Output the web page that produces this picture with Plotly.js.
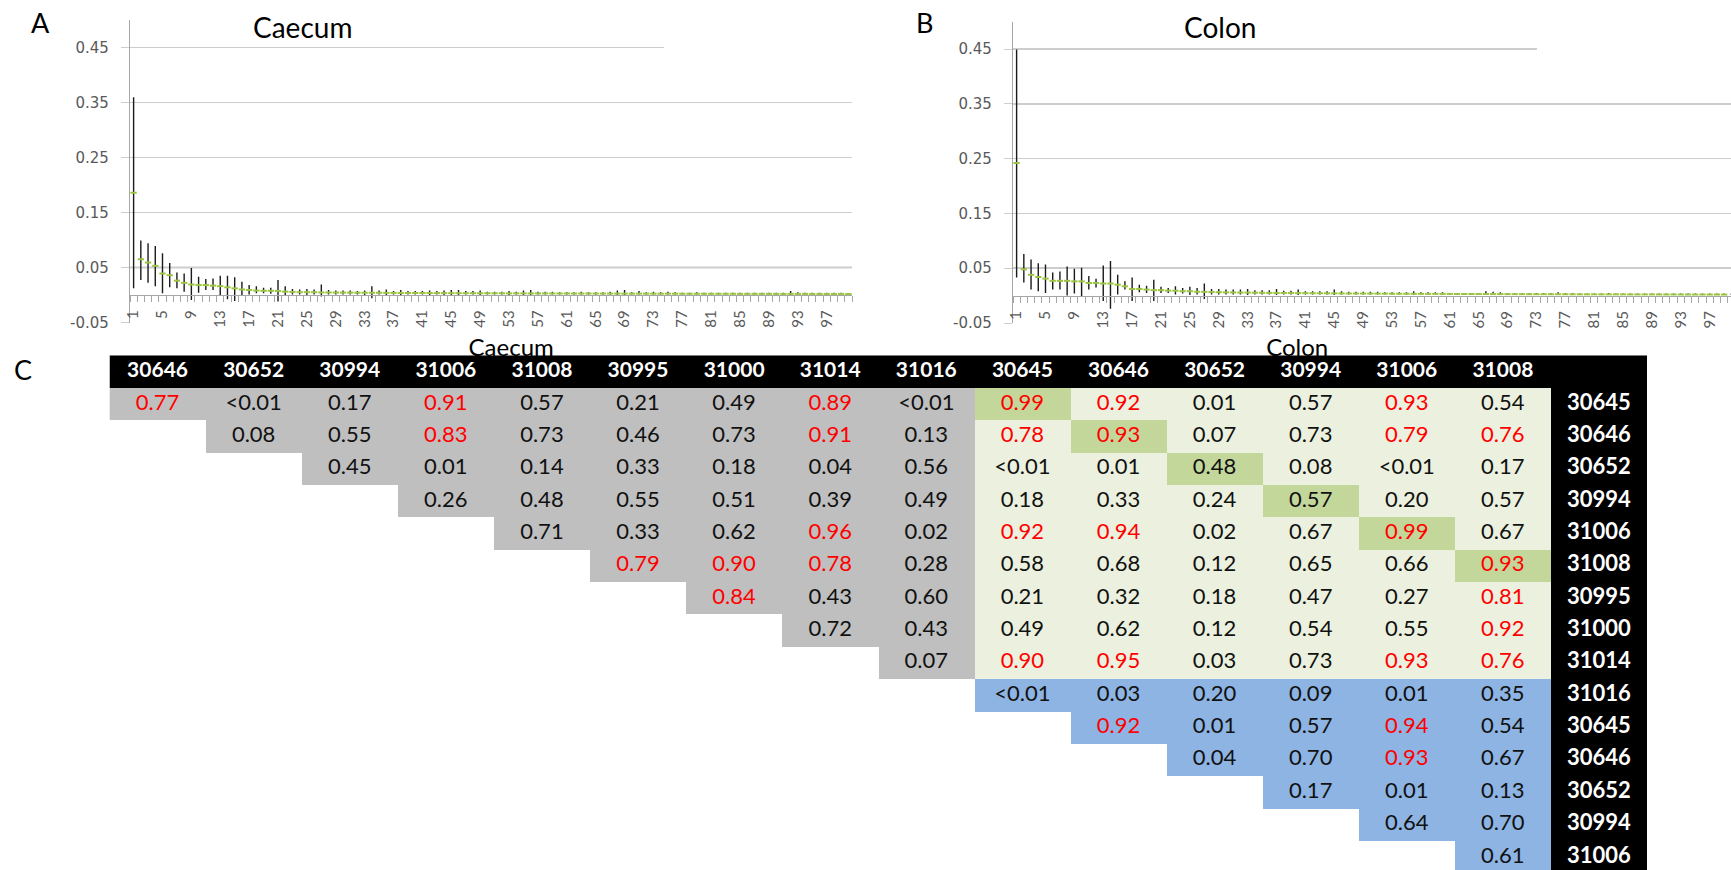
<!DOCTYPE html>
<html>
<head>
<meta charset="utf-8">
<script src="https://cdn.plot.ly/plotly-3.0.1.min.js"></script>
<style>html,body{margin:0;padding:0;background:#fff;}#chart{width:1731px;height:870px;}</style>
</head>
<body>
<div id="chart"></div>
<script>
// ---------- Data: ranked abundance, panels A and B ----------
const rank = Array.from({length: 100}, (_, i) => i + 1);

const caecumMean = [
0.186,0.065,0.059,0.053,0.039,0.036,0.026,0.022,0.019,0.018,
0.018,0.017,0.016,0.014,0.012,0.010,0.009,0.008,0.0075,0.0075,
0.0073,0.006,0.0055,0.005,0.005,0.005,0.0045,0.0045,0.0044,0.0043,
0.0042,0.0041,0.0040,0.0040,0.0039,0.0038,0.0038,0.0037,0.0036,0.0036,
0.0035,0.0035,0.0034,0.0034,0.0033,0.0033,0.0032,0.0032,0.0031,0.0031,
0.0030,0.0030,0.0029,0.0029,0.0029,0.0028,0.0028,0.0028,0.0027,0.0027,
0.0027,0.0026,0.0026,0.0026,0.0025,0.0025,0.0025,0.0025,0.0024,0.0024,
0.0024,0.0024,0.0023,0.0023,0.0023,0.0023,0.0022,0.0022,0.0022,0.0022,
0.0021,0.0021,0.0021,0.0021,0.0020,0.0020,0.0020,0.0020,0.0020,0.0019,
0.0019,0.0019,0.0019,0.0019,0.0018,0.0018,0.0018,0.0018,0.0018,0.0017];
const caecumHigh = [
0.360,0.099,0.094,0.089,0.076,0.058,0.041,0.039,0.049,0.033,
0.029,0.030,0.035,0.035,0.032,0.024,0.018,0.016,0.013,0.013,
0.027,0.016,0.011,0.010,0.011,0.010,0.019,0.009,0.008,0.008,
0.008,0.007,0.008,0.016,0.008,0.010,0.007,0.009,0.007,0.007,
0.007,0.008,0.007,0.008,0.009,0.009,0.007,0.007,0.008,0.006,
0.006,0.006,0.007,0.006,0.008,0.009,0.006,0.006,0.006,0.005,
0.005,0.005,0.006,0.005,0.005,0.005,0.006,0.008,0.009,0.005,
0.007,0.005,0.006,0.005,0.006,0.005,0.004,0.004,0.005,0.004,
0.004,0.004,0.004,0.004,0.004,0.004,0.004,0.004,0.004,0.004,
0.004,0.007,0.005,0.004,0.004,0.004,0.004,0.004,0.004,0.003];
const caecumLow = [
0.012,0.027,0.022,0.016,0.003,0.014,0.012,0.006,-0.009,0.004,
0.009,0.009,-0.002,-0.008,-0.011,-0.002,0.001,0.003,0.003,0.002,
-0.012,-0.001,0.001,0.001,0.000,0.001,-0.003,0.001,0.001,0.001,
0.001,0.001,0.000,-0.006,0.001,0.000,0.001,0.000,0.001,0.001,
0.001,0.000,0.001,0.000,0.000,0.000,0.001,0.001,0.000,0.001,
0.001,0.001,0.000,0.001,0.000,0.000,0.001,0.001,0.001,0.001,
0.001,0.001,0.001,0.001,0.001,0.001,0.001,0.000,0.000,0.001,
0.001,0.001,0.001,0.001,0.001,0.001,0.001,0.001,0.001,0.001,
0.001,0.001,0.001,0.001,0.001,0.001,0.001,0.001,0.001,0.001,
0.001,0.000,0.001,0.001,0.001,0.001,0.001,0.001,0.001,0.001];

const colonMean = [
0.242,0.048,0.038,0.034,0.031,0.027,0.027,0.027,0.026,0.026,
0.023,0.023,0.022,0.022,0.020,0.017,0.012,0.012,0.011,0.010,
0.010,0.009,0.009,0.008,0.008,0.007,0.007,0.0065,0.0063,0.006,
0.0058,0.0056,0.0055,0.0053,0.0052,0.0050,0.0049,0.0048,0.0047,0.0046,
0.0045,0.0044,0.0043,0.0042,0.0041,0.0040,0.0039,0.0038,0.0038,0.0037,
0.0036,0.0036,0.0035,0.0034,0.0034,0.0033,0.0033,0.0032,0.0032,0.0031,
0.0031,0.0030,0.0030,0.0029,0.0029,0.0029,0.0028,0.0028,0.0027,0.0027,
0.0027,0.0026,0.0026,0.0026,0.0025,0.0025,0.0025,0.0024,0.0024,0.0024,
0.0024,0.0023,0.0023,0.0023,0.0023,0.0022,0.0022,0.0022,0.0022,0.0021,
0.0021,0.0021,0.0021,0.0020,0.0020,0.0020,0.0020,0.0020,0.0019,0.0019];
const colonHigh = [
0.449,0.076,0.066,0.059,0.057,0.042,0.044,0.053,0.049,0.051,
0.036,0.031,0.055,0.063,0.038,0.026,0.033,0.020,0.018,0.029,
0.016,0.014,0.017,0.014,0.016,0.014,0.022,0.012,0.012,0.011,
0.011,0.011,0.012,0.010,0.010,0.010,0.012,0.009,0.009,0.011,
0.008,0.008,0.008,0.008,0.011,0.008,0.007,0.007,0.007,0.007,
0.007,0.006,0.006,0.006,0.006,0.008,0.006,0.006,0.006,0.006,
0.005,0.005,0.005,0.005,0.005,0.008,0.007,0.006,0.005,0.005,
0.005,0.005,0.005,0.005,0.005,0.006,0.005,0.005,0.004,0.004,
0.004,0.004,0.005,0.004,0.004,0.004,0.004,0.004,0.004,0.004,
0.004,0.004,0.004,0.004,0.004,0.004,0.004,0.004,0.004,0.004];
const colonLow = [
0.033,0.024,0.011,0.008,0.005,0.011,0.011,0.000,0.004,-0.001,
0.011,0.015,-0.010,-0.024,0.002,0.011,-0.010,0.006,0.005,-0.010,
0.005,0.005,0.002,0.004,0.001,0.002,-0.006,0.002,0.002,0.002,
0.002,0.002,0.001,0.002,0.002,0.002,0.001,0.002,0.002,0.001,
0.002,0.002,0.002,0.002,0.001,0.002,0.002,0.002,0.002,0.002,
0.002,0.002,0.002,0.002,0.002,0.001,0.002,0.002,0.002,0.002,
0.002,0.002,0.002,0.002,0.002,0.001,0.001,0.001,0.002,0.002,
0.002,0.002,0.002,0.002,0.002,0.001,0.002,0.002,0.002,0.002,
0.002,0.002,0.001,0.002,0.002,0.002,0.002,0.002,0.002,0.002,
0.001,0.001,0.001,0.001,0.001,0.001,0.001,0.001,0.001,0.001];

const yTicks = [-0.05, 0.05, 0.15, 0.25, 0.35, 0.45];

// ---------- Data: table C ----------
const caecumStrains = ['30646','30652','30994','31006','31008','30995','31000','31014','31016'];
const colonStrains  = ['30645','30646','30652','30994','31006','31008'];
const rowStrains    = ['30645','30646','30652','30994','31006','31008','30995','31000','31014','31016',
                       '30645','30646','30652','30994','31006'];
const sectionLabels = ['Caecum', 'Colon'];
const caecumValues = [
 ['0.77','<0.01','0.17','0.91','0.57','0.21','0.49','0.89','<0.01'],
 [null,'0.08','0.55','0.83','0.73','0.46','0.73','0.91','0.13'],
 [null,null,'0.45','0.01','0.14','0.33','0.18','0.04','0.56'],
 [null,null,null,'0.26','0.48','0.55','0.51','0.39','0.49'],
 [null,null,null,null,'0.71','0.33','0.62','0.96','0.02'],
 [null,null,null,null,null,'0.79','0.90','0.78','0.28'],
 [null,null,null,null,null,null,'0.84','0.43','0.60'],
 [null,null,null,null,null,null,null,'0.72','0.43'],
 [null,null,null,null,null,null,null,null,'0.07']
];
const colonValues = [
 ['0.99','0.92','0.01','0.57','0.93','0.54'],
 ['0.78','0.93','0.07','0.73','0.79','0.76'],
 ['<0.01','0.01','0.48','0.08','<0.01','0.17'],
 ['0.18','0.33','0.24','0.57','0.20','0.57'],
 ['0.92','0.94','0.02','0.67','0.99','0.67'],
 ['0.58','0.68','0.12','0.65','0.66','0.93'],
 ['0.21','0.32','0.18','0.47','0.27','0.81'],
 ['0.49','0.62','0.12','0.54','0.55','0.92'],
 ['0.90','0.95','0.03','0.73','0.93','0.76'],
 ['<0.01','0.03','0.20','0.09','0.01','0.35'],
 [null,'0.92','0.01','0.57','0.94','0.54'],
 [null,null,'0.04','0.70','0.93','0.67'],
 [null,null,null,'0.17','0.01','0.13'],
 [null,null,null,null,'0.64','0.70'],
 [null,null,null,null,null,'0.61']
];

// ---------- Build figure ----------
const W = 1731, H = 870;
const px = v => v / W, py = v => 1 - v / H;
const FONT = 'Lato, "Open Sans", sans-serif';
const GREEN = '#9BC53D';

function rankTrace(mean, low, high, xa, ya) {
  return {
    type: 'scatter', mode: 'markers', x: rank, y: mean, xaxis: xa, yaxis: ya,
    marker: {symbol: 'line-ew', size: 4.5, line: {width: 2, color: GREEN}, color: GREEN},
    error_y: {type: 'data', symmetric: false,
      array: high.map((h, i) => h - mean[i]),
      arrayminus: low.map((l, i) => mean[i] - l),
      color: '#1a1a1a', thickness: 1.4, width: 0},
    hoverinfo: 'x+y', showlegend: false, cliponaxis: false
  };
}

const majorVals = rank.filter(r => (r - 1) % 4 === 0);
function xAxisDef(domain, range, yDomain) {
  const pos = yDomain[0] + (0 - (-0.05)) / 0.55 * (yDomain[1] - yDomain[0]);
  return {
    domain, range, anchor: 'free', position: pos,
    showgrid: false, zeroline: false, showline: true, linecolor: '#a6a6a6', linewidth: 1.2,
    tickmode: 'array', tickvals: majorVals, ticktext: majorVals.map(String),
    ticks: '', tickangle: -90, ticklabelstandoff: 8,
    tickfont: {family: FONT, size: 15, color: '#595959'},
    minor: {tickmode: 'linear', tick0: 0.5, dtick: 1, ticks: 'outside', ticklen: 6,
            tickcolor: '#a6a6a6', tickwidth: 1, showgrid: false},
    fixedrange: true
  };
}
function yAxisDef(domain, xa) {
  return {
    domain, anchor: xa, range: [-0.0505, 0.5],
    tickmode: 'array', tickvals: yTicks, ticktext: yTicks.map(v => v.toFixed(2)),
    showgrid: true, gridcolor: '#cdcdcd', gridwidth: 1.4, zeroline: false,
    showline: true, linecolor: '#a6a6a6', linewidth: 1.2,
    ticks: 'outside', ticklen: 8, tickcolor: '#cdcdcd', ticklabelstandoff: 9,
    tickfont: {family: '"DejaVu Sans", Verdana, sans-serif', size: 15, color: '#595959'},
    fixedrange: true
  };
}

const yDomA = [py(322.7), py(20.2)];
const yDomB = [py(323.3), py(21.6)];

// table geometry
const nCaec = caecumStrains.length, nCol = colonStrains.length, nRows = rowStrains.length;
const labelCol = nCaec + nCol;
const colIdx = Array.from({length: labelCol + 1}, (_, i) => i);
const rowIdx = Array.from({length: nRows + 1}, (_, i) => i - 1);

// cell colour codes: 0 white, 1 grey, 2 light green, 3 dark green, 4 blue, 5 black
const zCells = rowIdx.map(r => colIdx.map(c => {
  if (r < 0 || c === labelCol) return 5;
  if (c < nCaec) {
    const row = caecumValues[r];
    return (row && row[c] != null) ? 1 : 0;
  }
  const j = c - nCaec;
  const v = colonValues[r] ? colonValues[r][j] : null;
  if (v == null) return 0;
  if (r >= nCaec) return 4;
  return (r === j) ? 3 : 2;
}));

const cellX = [], cellY = [], cellT = [], cellC = [];
rowStrains.forEach((_, r) => {
  for (let c = 0; c < nCaec + nCol; c++) {
    const v = c < nCaec ? (caecumValues[r] ? caecumValues[r][c] : null)
                        : (colonValues[r] ? colonValues[r][c - nCaec] : null);
    if (v == null) continue;
    cellX.push(c); cellY.push(r); cellT.push(v);
    const num = parseFloat(v.replace('<', ''));
    cellC.push(!v.startsWith('<') && num >= 0.75 ? '#ff0000' : '#111111');
  }
});
const headerLabels = caecumStrains.concat(colonStrains);

const TBL_RANGE = [14.4, -2.1];
const traces = [
  rankTrace(caecumMean, caecumLow, caecumHigh, 'x', 'y'),
  rankTrace(colonMean, colonLow, colonHigh, 'x2', 'y2'),
  // section labels partly hidden behind the header (base table subplot)
  {type: 'scatter', mode: 'text', xaxis: 'x3', yaxis: 'y3', x: [3.68, 11.86], y: [-1.66, -1.66],
   text: sectionLabels, textfont: {family: FONT, size: 24, color: '#000'},
   cliponaxis: false, hoverinfo: 'skip', showlegend: false},
  // table cells (overlay subplot)
  {type: 'heatmap', xaxis: 'x4', yaxis: 'y4', x: colIdx, y: rowIdx, z: zCells,
   zmin: -0.5, zmax: 5.5, showscale: false, hoverinfo: 'skip',
   colorscale: [[0,'#ffffff'],[1/6,'#ffffff'],[1/6,'#bfbfbf'],[2/6,'#bfbfbf'],[2/6,'#ebf1de'],[3/6,'#ebf1de'],
                [3/6,'#c4d79b'],[4/6,'#c4d79b'],[4/6,'#8db4e2'],[5/6,'#8db4e2'],[5/6,'#000000'],[1,'#000000']]},
  {type: 'scatter', mode: 'text', xaxis: 'x4', yaxis: 'y4',
   x: headerLabels.map((_, i) => i), y: headerLabels.map(() => -1), text: headerLabels,
   textfont: {family: FONT, size: 21, color: '#ffffff', weight: 'bold'}, hoverinfo: 'skip', showlegend: false},
  {type: 'scatter', mode: 'text', xaxis: 'x4', yaxis: 'y4',
   x: rowStrains.map(() => labelCol), y: rowStrains.map((_, i) => i), text: rowStrains,
   textfont: {family: FONT, size: 22, color: '#ffffff', weight: 'bold'}, hoverinfo: 'skip', showlegend: false},
  {type: 'scatter', mode: 'text', xaxis: 'x4', yaxis: 'y4',
   x: cellX, y: cellY, text: cellT,
   textfont: {family: FONT, size: 22, color: cellC}, hoverinfo: 'skip', showlegend: false}
];

const rowH = 32.39;
const tblTop = 355.5 - (Math.abs(TBL_RANGE[1]) - 1.5) * rowH;
const tblX = [px(109.5), px(1647)];
const tblY = [0, py(tblTop)];
const layout = {
  width: W, height: H, margin: {l: 0, r: 0, t: 0, b: 0}, autosize: false,
  paper_bgcolor: '#ffffff', plot_bgcolor: 'rgba(0,0,0,0)', showlegend: false,
  font: {family: FONT},
  xaxis: xAxisDef([px(130), px(852)], [0.5, 100.5], yDomA),
  yaxis: yAxisDef(yDomA, 'x'),
  xaxis2: xAxisDef([px(1013), 1], [0.5, 99.95], yDomB),
  yaxis2: yAxisDef(yDomB, 'x2'),
  xaxis3: {domain: tblX, range: [-0.5, 15.5], visible: false, anchor: 'y3', fixedrange: true},
  yaxis3: {domain: tblY, range: TBL_RANGE, visible: false, anchor: 'x3', fixedrange: true},
  xaxis4: {overlaying: 'x3', range: [-0.5, 15.5], visible: false, anchor: 'y4', fixedrange: true},
  yaxis4: {overlaying: 'y3', range: TBL_RANGE, visible: false, anchor: 'x4', fixedrange: true},
  shapes: [
    // darker 0.05 gridline, as in the reference
    {type: 'line', xref: 'x domain', yref: 'y', x0: 0, x1: 1, y0: 0.05, y1: 0.05,
     line: {color: '#9a9a9a', width: 1.3}, layer: 'below'},
    {type: 'line', xref: 'x2 domain', yref: 'y2', x0: 0, x1: 1, y0: 0.05, y1: 0.05,
     line: {color: '#9a9a9a', width: 1.3}, layer: 'below'},
    {type: 'rect', xref: 'paper', yref: 'paper', x0: px(664), x1: px(856), y0: py(51), y1: py(44),
     fillcolor: '#ffffff', line: {width: 0}, layer: 'above'},
    {type: 'rect', xref: 'paper', yref: 'paper', x0: px(1537), x1: 1, y0: py(52), y1: py(45),
     fillcolor: '#ffffff', line: {width: 0}, layer: 'above'}
  ],
  annotations: [
    {text: 'A', x: px(40), y: py(22), xref: 'paper', yref: 'paper', showarrow: false,
     font: {family: FONT, size: 27, color: '#000'}, xanchor: 'center', yanchor: 'middle'},
    {text: 'B', x: px(924), y: py(22), xref: 'paper', yref: 'paper', showarrow: false,
     font: {family: FONT, size: 27, color: '#000'}, xanchor: 'center', yanchor: 'middle'},
    {text: 'C', x: px(23), y: py(369), xref: 'paper', yref: 'paper', showarrow: false,
     font: {family: FONT, size: 27, color: '#000'}, xanchor: 'center', yanchor: 'middle'},
    {text: 'Caecum', x: px(302), y: py(27), xref: 'paper', yref: 'paper', showarrow: false,
     font: {family: FONT, size: 28, color: '#000'}, xanchor: 'center', yanchor: 'middle'},
    {text: 'Colon', x: px(1220), y: py(27), xref: 'paper', yref: 'paper', showarrow: false,
     font: {family: FONT, size: 28, color: '#000'}, xanchor: 'center', yanchor: 'middle'}
  ]
};

Plotly.newPlot('chart', traces, layout, {staticPlot: true, displayModeBar: false});
</script>
</body>
</html>
